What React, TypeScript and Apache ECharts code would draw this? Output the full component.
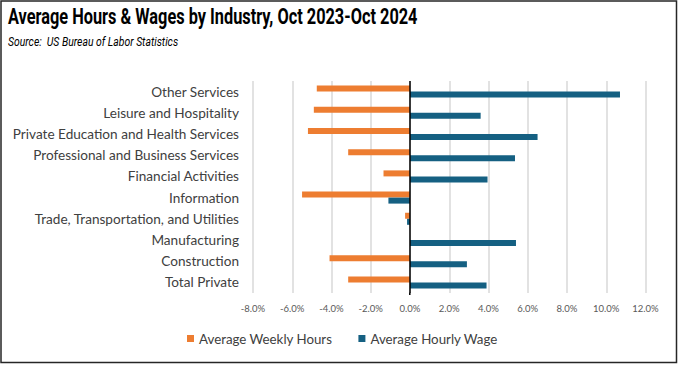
import React, { useEffect, useRef } from "react";
import * as echarts from "echarts";

const categories = [
  "Total Private",
  "Construction",
  "Manufacturing",
  "Trade, Transportation, and Utilities",
  "Information",
  "Financial Activities",
  "Professional and Business Services",
  "Private Education and Health Services",
  "Leisure and Hospitality",
  "Other Services",
];
const weeklyHours = [-3.15, -4.1, 0, -0.25, -5.5, -1.35, -3.15, -5.2, -4.9, -4.75];
const hourlyWage = [3.9, 2.9, 5.4, -0.15, -1.1, 3.95, 5.35, 6.5, 3.6, 10.7];
const seriesNames = ["Average Weekly Hours", "Average Hourly Wage"];
const titleText = "Average Hours & Wages by Industry, Oct 2023-Oct 2024";
const subtitleText = "Source:  US Bureau of Labor Statistics";

export default function App() {
  const ref = useRef<HTMLDivElement>(null);
  useEffect(() => {
    document.body.style.margin = "0";
    const chart = echarts.init(ref.current!, null, { renderer: "svg" });
    chart.setOption({
      animation: false,
      backgroundColor: "#ffffff",
      graphic: [
        {
          type: "rect",
          shape: { x: 1, y: 1, width: 675.5, height: 361.5 },
          style: { fill: "none", stroke: "#262626", lineWidth: 1.5 },
          silent: true,
        },
        {
          type: "text",
          x: 8,
          y: 6,
          scaleX: 0.76,
          style: {
            text: titleText,
            font: "bold 21.5px 'Liberation Sans Narrow', 'Roboto', sans-serif",
            fill: "#000000",
          },
        },
        {
          type: "text",
          x: 8,
          y: 35,
          scaleX: 0.8,
          style: {
            text: subtitleText,
            font: "italic 13px 'Liberation Sans Narrow', 'Roboto', sans-serif",
            fill: "#000000",
          },
        },
        {
          type: "line",
          shape: { x1: 409.8, y1: 292, x2: 409.8, y2: 295 },
          style: { stroke: "#000000", lineWidth: 1.5 },
          silent: true,
        },
      ],
      legend: {
        data: seriesNames,
        bottom: 16,
        left: 182,
        itemWidth: 7,
        itemHeight: 7,
        itemGap: 26,
        icon: "rect",
        textStyle: { fontFamily: "Lato", fontSize: 13.3, color: "#404040" },
      },
      grid: {
        left: 253,
        right: 35.5,
        top: 81,
        bottom: 73,
        containLabel: false,
        outerBoundsMode: "none",
      },
      xAxis: {
        type: "value",
        min: -8,
        max: 12,
        interval: 2,
        axisLine: { show: false },
        axisTick: { show: false },
        splitLine: { lineStyle: { color: "#d9d9d9", width: 1.5 } },
        axisLabel: {
          formatter: (v: number) => v.toFixed(1) + "%",
          fontFamily: "Lato",
          fontSize: 9.5,
          color: "#595959",
          margin: 10,
        },
      },
      yAxis: {
        type: "category",
        data: categories,
        axisLine: { show: false },
        axisTick: { show: false },
        axisLabel: {
          fontFamily: "Lato",
          fontSize: 13.6,
          color: "#404040",
          margin: 14,
        },
      },
      series: [
        {
          name: seriesNames[0],
          type: "bar",
          data: weeklyHours,
          barWidth: 6,
          barGap: "0%",
          itemStyle: { color: "#ED7D31" },
          markLine: {
            silent: true,
            symbol: "none",
            label: { show: false },
            lineStyle: { color: "#000000", type: "solid", width: 1.5 },
            data: [{ xAxis: 0 }],
          },
        },
        {
          name: seriesNames[1],
          type: "bar",
          data: hourlyWage,
          barWidth: 6,
          barGap: "0%",
          itemStyle: { color: "#156082" },
        },
      ],
    });
    return () => chart.dispose();
  }, []);
  return (
    <div
      ref={ref}
      style={{ position: "absolute", left: 0, top: 0, width: 681, height: 366 }}
    />
  );
}
